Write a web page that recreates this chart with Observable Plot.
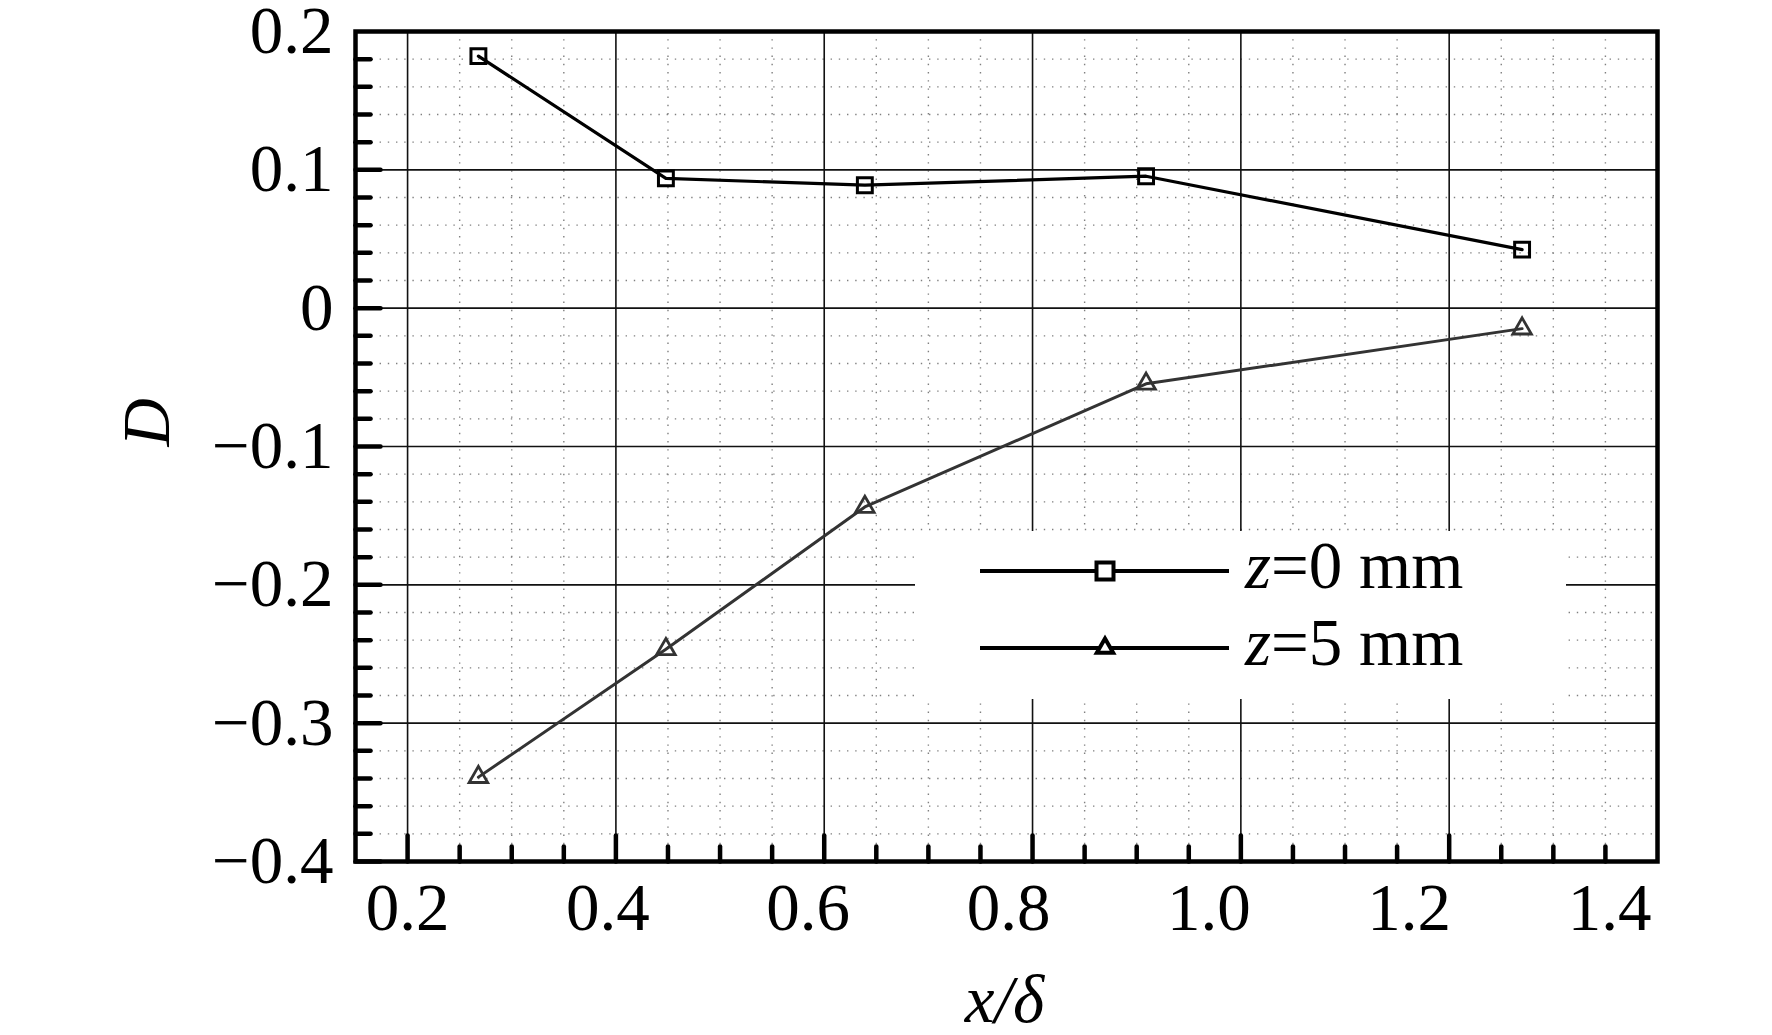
<!DOCTYPE html>
<html>
<head>
<meta charset="utf-8">
<script src="https://cdn.jsdelivr.net/npm/d3@7"></script>
<script src="https://cdn.jsdelivr.net/npm/@observablehq/plot@0.6"></script>
<style>
  html, body { margin: 0; padding: 0; background: #fff; overflow: hidden; }
  #chart svg { display: block; }
</style>
</head>
<body>
<div id="chart"></div>
<script>
// ---- data ----
const seriesNames = ["z=0 mm", "z=5 mm"];
const xPositions = [0.268, 0.448, 0.639, 0.909, 1.270];
const dZ0 = [0.1822, 0.0938, 0.0889, 0.0954, 0.0423];
const dZ5 = [-0.339, -0.2466, -0.1437, -0.0547, -0.0148];
const xTickValues = [0.2, 0.4, 0.6, 0.8, 1.0, 1.2, 1.4];
const yTickValues = [-0.4, -0.3, -0.2, -0.1, 0, 0.1, 0.2];
const xTitle = "x/δ";
const yTitle = "D";

// ---- derived tables ----
const rows0 = xPositions.map((x, i) => ({x, d: dZ0[i], series: seriesNames[0]}));
const rows5 = xPositions.map((x, i) => ({x, d: dZ5[i], series: seriesNames[1]}));
const xMinor = d3.range(5, 28).filter(i => i % 4 !== 0).map(i => +(i * 0.05).toFixed(2));
const yMinor = d3.range(-19, 10).filter(i => i % 5 !== 0).map(i => +(i * 0.02).toFixed(2));
const xInnerMajor = xTickValues.slice(0, -1);
const yInnerMajor = yTickValues.slice(1, -1);

const fmtX = d3.format(".1f");
const fmtY = d => d === 0 ? "0" : d3.format(".1f")(d);
const FONT = "'Liberation Serif', 'Times New Roman', serif";
const FS = 67;

const tickShape = {draw(ctx, l) { ctx.moveTo(0, 0); ctx.lineTo(0, -l); }};
const tickOpts = {anchor: "start", shape: tickShape, stroke: "#000", strokeWidth: 4.5};

const dotted = {stroke: "#808080", strokeWidth: 1.4, strokeDasharray: "1.4,6.8"};
const solid = {stroke: "#111", strokeWidth: 1.6};

const xLabelMarks = xTickValues.map(t => Plot.text([t], {
  x: d => d, text: d => fmtX(d), frameAnchor: "bottom", lineAnchor: "middle",
  dy: 47.5, dx: -40 * (t - 0.2), fontSize: FS, fill: "#000"
}));

const chart = Plot.plot({
  width: 1772,
  height: 1035,
  marginLeft: 355,
  marginRight: 115,
  marginTop: 31,
  marginBottom: 174,
  style: {fontFamily: FONT, background: "#fff", color: "#000"},
  x: {domain: [0.15, 1.4], axis: null},
  y: {domain: [-0.4, 0.2], axis: null},
  marks: [
    Plot.ruleX(xMinor, {x: d => d, ...dotted}),
    Plot.ruleY(yMinor, {y: d => d, ...dotted}),
    Plot.ruleX(xInnerMajor, {x: d => d, ...solid}),
    Plot.ruleY(yInnerMajor, {y: d => d, ...solid}),
    Plot.line(rows0, {x: "x", y: "d", stroke: "#000", strokeWidth: 3.2}),
    Plot.line(rows5, {x: "x", y: "d", stroke: "#333", strokeWidth: 3}),
    Plot.dot(rows0, {x: "x", y: "d", symbol: "square", r: 8.4, stroke: "#000", strokeWidth: 3, fill: "none"}),
    Plot.dot(rows5, {x: "x", y: "d", symbol: "triangle", r: 6.9, stroke: "#333", strokeWidth: 2.8, fill: "none"}),
    Plot.frame({stroke: "#000", strokeWidth: 4.5}),
    // inward ticks
    Plot.vector(xTickValues.slice(0, -1), {x: d => d, frameAnchor: "bottom", length: 26, rotate: 0, ...tickOpts}),
    Plot.vector(xMinor, {x: d => d, frameAnchor: "bottom", length: 15, rotate: 0, ...tickOpts}),
    Plot.vector(yTickValues.slice(0, -1), {y: d => d, frameAnchor: "left", length: 25, rotate: 90, ...tickOpts}),
    Plot.vector(yMinor, {y: d => d, frameAnchor: "left", length: 15, rotate: 90, ...tickOpts}),
    // tick labels
    ...xLabelMarks,
    Plot.text(yTickValues, {y: d => d, text: d => fmtY(d), frameAnchor: "left", lineAnchor: "middle", dx: -22, textAnchor: "end", fontSize: FS, fill: "#000"}),
    // axis titles
    Plot.text([yTitle], {text: d => d, frameAnchor: "left", lineAnchor: "middle", dx: -208, rotate: -90, fontStyle: "italic", fontSize: FS, fill: "#000"}),
    Plot.text([xTitle], {text: d => d, frameAnchor: "bottom", lineAnchor: "middle", dy: 139, dx: -2, fontStyle: "italic", fontSize: FS, fill: "#000"})
  ]
});

document.getElementById("chart").appendChild(chart);

// ---- legend (inside the plot area) ----
const svg = d3.select(chart);
const lg = svg.append("g").attr("class", "legend");
lg.append("rect").attr("x", 915).attr("y", 531).attr("width", 651).attr("height", 168).attr("fill", "#fff");
const legendItems = [
  {name: seriesNames[0], symbol: d3.symbolSquare, size: 289, sw: 4, y: 571},
  {name: seriesNames[1], symbol: d3.symbolTriangle, size: 115, sw: 4, y: 648}
];
legendItems.forEach(it => {
  lg.append("line").attr("x1", 980).attr("x2", 1229).attr("y1", it.y).attr("y2", it.y)
    .attr("stroke", "#000").attr("stroke-width", 4);
  lg.append("path").attr("d", d3.symbol(it.symbol, it.size)())
    .attr("transform", `translate(1105,${it.y})`)
    .attr("fill", "#fff").attr("stroke", "#000").attr("stroke-width", it.sw);
  const zPart = it.name.slice(0, 1), rest = it.name.slice(1);
  const t = lg.append("text").attr("x", 1245).attr("y", it.y + 17)
    .attr("text-anchor", "start")
    .attr("font-family", FONT).attr("font-size", FS).attr("fill", "#000");
  t.append("tspan").attr("font-style", "italic").text(zPart);
  t.append("tspan").text(rest);
});
</script>
</body>
</html>
